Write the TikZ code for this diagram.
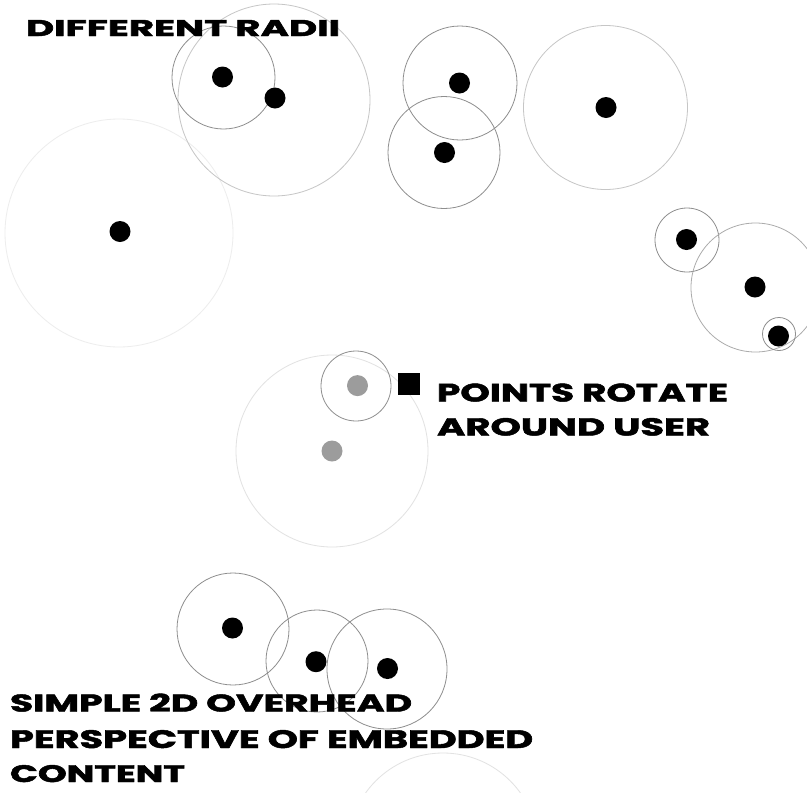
\documentclass[tikz,border=0pt]{standalone}
\usepackage{fontspec}
\usepackage{graphicx}
\newfontfamily\lblfont{Poppins}[BoldFeatures={FakeBold=1.8}]
\definecolor{ringdark}{HTML}{8E8E8E}
\definecolor{ringmid}{HTML}{ABABAB}
\definecolor{ringlight}{HTML}{C6C6C6}
\definecolor{ringfaint}{HTML}{E2E2E2}
\definecolor{ringpale}{HTML}{EDEDED}
\definecolor{dotgray}{HTML}{9C9C9C}
\tikzset{
  dot/.style={circle, fill=black, minimum size=21pt, inner sep=0pt},
  graydot/.style={circle, fill=dotgray, minimum size=21pt, inner sep=0pt},
  ring/.style={circle, draw=#1, line width=0.8pt, inner sep=0pt},
  lbl/.style={anchor=north west, inner sep=0pt, outer sep=0pt},
}
\newcommand{\mylabeltext}[3]{\resizebox{#1pt}{#2pt}{\lblfont\bfseries #3}}
\begin{document}
\begin{tikzpicture}[x=1pt, y=-1pt]
\useasboundingbox (0,0) rectangle (807,804);
\fill[white] (0,0) rectangle (807,804);

% rings
\node[ring=ringpale, minimum size=228pt] (c1) at (119,233) {};
\node[ring=ringlight, minimum size=192pt] (c3) at (274,100) {};
\node[ring=ringdark, minimum size=103pt] (c2) at (223.5,77.5) {};
\node[ring=ringdark, minimum size=114pt] (c4) at (460,83) {};
\node[ring=ringdark, minimum size=112pt] (c5) at (444,152.5) {};
\node[ring=ringlight, minimum size=164pt] (c6) at (605.5,107.5) {};
\node[ring=ringdark, minimum size=64pt] (c7) at (687,240) {};
\node[ring=ringmid, minimum size=129pt] (c8) at (755.5,287.5) {};
\node[ring=ringdark, minimum size=33pt] (c9) at (779,334) {};
\node[ring=ringfaint, minimum size=192pt] (c10) at (332,451) {};
\node[ring=ringdark, minimum size=70pt] (c11) at (356,386) {};
\node[ring=ringdark, minimum size=112pt] (c12) at (233,629) {};
\node[ring=ringdark, minimum size=102pt] (c13) at (317,661) {};
\node[ring=ringdark, minimum size=120pt] (c14) at (387,669) {};
\begin{scope}
\clip (0,0) rectangle (807,792);
\node[ring=ringfaint, minimum size=190pt] (c15) at (443,848) {};
\end{scope}

% dots
\node[dot] (d1) at (120,231.5) {};
\node[dot] (d2) at (222.5,77) {};
\node[dot] (d3) at (275,98) {};
\node[dot] (d4) at (459.5,83) {};
\node[dot] (d5) at (444.5,152.5) {};
\node[dot] (d6) at (606,107.5) {};
\node[dot] (d7) at (686.5,239.5) {};
\node[dot] (d8) at (755,287) {};
\node[dot] (d9) at (778.5,336) {};
\node[graydot] (g1) at (357.5,385.6) {};
\node[graydot] (g2) at (332,451) {};
\node[dot] (d10) at (232.5,628) {};
\node[dot] (d11) at (316,661.7) {};
\node[dot] (d12) at (387.5,668.5) {};

% user marker
\node[fill=black, minimum size=22pt, inner sep=0pt] (user) at (408.5,384) {};

% texts
\node[lbl] (t1) at (26,20) {\mylabeltext{314}{16}{DIFFERENT RADII}};
\node[lbl] (t2) at (437,383.5) {\mylabeltext{291}{18}{POINTS ROTATE}};
\node[lbl] (t3) at (437,418) {\mylabeltext{273}{17.5}{AROUND USER}};
\node[lbl] (t4) at (10,693.5) {\mylabeltext{402}{18}{SIMPLE 2D OVERHEAD}};
\node[lbl] (t5) at (10,730) {\mylabeltext{523}{18}{PERSPECTIVE OF EMBEDDED}};
\node[lbl] (t6) at (10,765) {\mylabeltext{175}{17}{CONTENT}};
\end{tikzpicture}
\end{document}
